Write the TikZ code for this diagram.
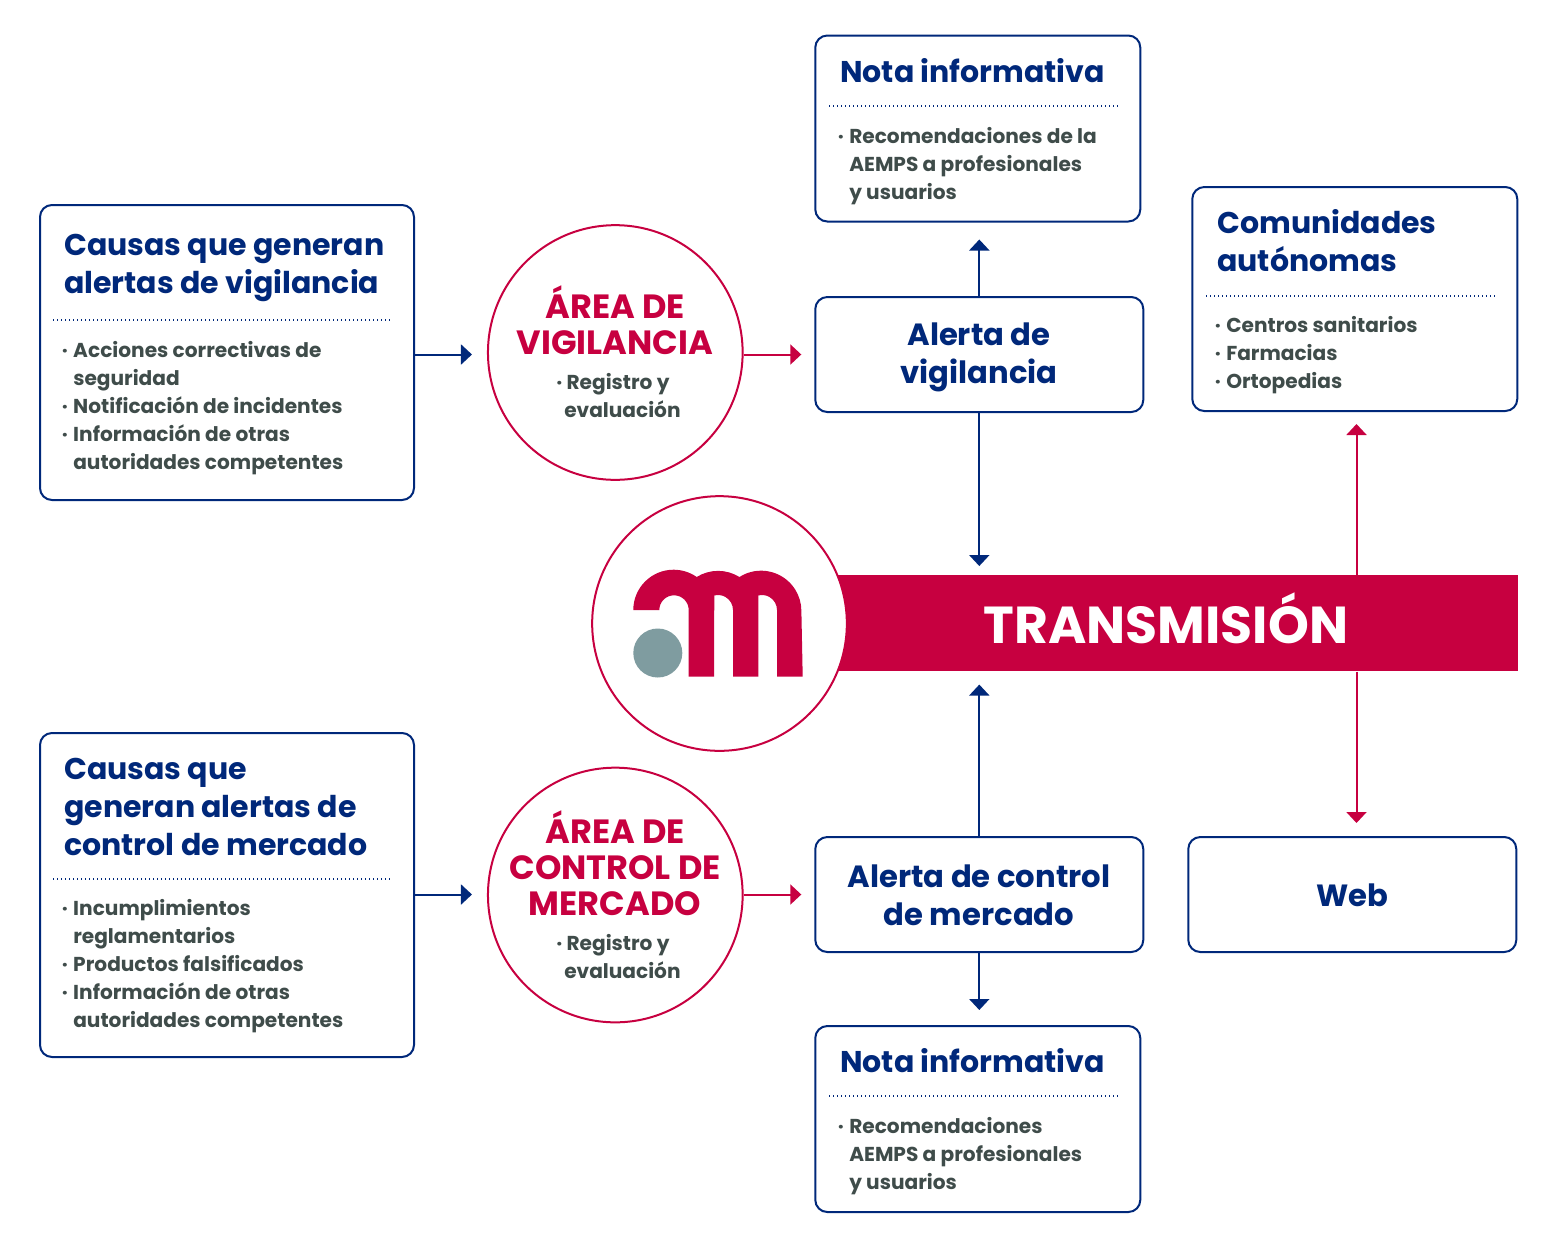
\documentclass[tikz,border=0pt]{standalone}
\usepackage{fontspec}
\setmainfont{Poppins}[UprightFont=* SemiBold,BoldFont=* Bold]
\usetikzlibrary{arrows.meta}
\definecolor{azul}{HTML}{00287A}
\definecolor{rojo}{HTML}{C70040}
\definecolor{texto}{HTML}{3F4C4A}
\definecolor{gris}{HTML}{7F9CA0}
\newcommand{\punto}{\llap{·\hspace{4pt}}}
\begin{document}
\begin{tikzpicture}[x=0.75pt,y=-0.75pt]
  \tikzstyle{cuadro}  = [draw=azul,line width=1.5pt,rounded corners=9pt,fill=white,inner sep=0pt]
  \tikzstyle{alerta}  = [cuadro,minimum width=246pt,minimum height=86.25pt]
  \tikzstyle{nota}    = [cuadro,minimum width=243.75pt,minimum height=139.5pt]
  \tikzstyle{area}    = [circle,draw=rojo,line width=1.5pt,fill=white,minimum size=191pt,inner sep=0pt]
  \tikzstyle{titulo}  = [anchor=north west,inner sep=0pt,text=azul,align=left,font=\fontsize{22.5}{28.5}\selectfont\bfseries]
  \tikzstyle{nombre}  = [inner sep=0pt,text=azul,align=center,font=\fontsize{23}{28.5}\selectfont\bfseries]
  \tikzstyle{lista}   = [anchor=north west,inner sep=0pt,text=texto,align=left,font=\fontsize{15.1}{21}\selectfont\bfseries]
  \tikzstyle{rotulo}  = [inner sep=0pt,text=rojo,align=center,font=\fontsize{25.2}{27}\selectfont\bfseries]
  \tikzstyle{regla}   = [azul,line width=0.9pt,dash pattern=on 0.9pt off 2.1pt]
  \tikzstyle{secA}    = [azul,line width=1.5pt,-{Triangle[length=8.25pt,width=15pt]}]
  \tikzstyle{secR}    = [rojo,line width=1.5pt,-{Triangle[length=8.25pt,width=15pt]}]
  \useasboundingbox (0,0) rectangle (1553,1247);
  % banda central
  \path (1166,623.3) node[fill=rojo,minimum width=528pt,minimum height=72pt,inner sep=0pt](banda) {};
  \path (1166,618.5) node[inner sep=0pt,text=white,font=\fontsize{39}{39}\selectfont\bfseries](tituloBanda) {TRANSMISIÓN};
  % cuadros de causas
  \path (227,352.5) node[cuadro,minimum width=280.5pt,minimum height=221.25pt](causaV) {};
  \path (227,895) node[cuadro,minimum width=280.5pt,minimum height=243pt](causaM) {};
  \path (64,234) node[titulo](tituloCV) {Causas que generan\\alertas de vigilancia};
  \draw[regla] (53,320) -- (391,320);
  \path (73,341) node[lista](listaCV) {\punto Acciones correctivas de\\seguridad\\\punto Notificación de incidentes\\\punto Información de otras\\autoridades competentes};
  \path (64,758) node[titulo](tituloCM) {Causas que\\generan alertas de\\control de mercado};
  \draw[regla] (53,879) -- (391,879);
  \path (73,899) node[lista](listaCM) {\punto Incumplimientos\\reglamentarios\\\punto Productos falsificados\\\punto Información de otras\\autoridades competentes};
  % areas
  \path (615.3,352.5) node[area](areaV) {};
  \path (615.3,895) node[area](areaM) {};
  \path (615,320) node[rotulo](tituloAV) {ÁREA DE\\VIGILANCIA};
  \path (556,373) node[lista](listaAV) {· Registro y\\\hspace{6pt}evaluación};
  \path (615,863) node[rotulo](tituloAM) {ÁREA DE\\CONTROL DE\\MERCADO};
  \path (556,934) node[lista](listaAM) {· Registro y\\\hspace{6pt}evaluación};
  % alertas
  \path (979.3,354.5) node[alerta](alertaV) {};
  \path (979,357) node[nombre](tituloAlV) {Alerta de\\vigilancia};
  \path (979.3,894.5) node[alerta](alertaM) {};
  \path (979,895) node[nombre](tituloAlM) {Alerta de control\\de mercado};
  % notas
  \path (977.8,128.5) node[nota](notaA) {};
  \path (840,58) node[titulo](tituloNA) {Nota informativa};
  \draw[regla] (829,106) -- (1119,106);
  \path (849,127) node[lista](listaNA) {\punto Recomendaciones de la\\AEMPS a profesionales\\y usuarios};
  \path (977.8,1119) node[nota](notaB) {};
  \path (840,1048) node[titulo](tituloNB) {Nota informativa};
  \draw[regla] (829,1096) -- (1119,1096);
  \path (849,1117) node[lista](listaNB) {\punto Recomendaciones\\AEMPS a profesionales\\y usuarios};
  % destinos
  \path (1354.8,299) node[cuadro,minimum width=243.75pt,minimum height=168pt](comun) {};
  \path (1217,209) node[titulo](tituloCA) {Comunidades\\autónomas};
  \draw[regla] (1206,296) -- (1496,296);
  \path (1226,316) node[lista](listaCA) {\punto Centros sanitarios\\\punto Farmacias\\\punto Ortopedias};
  \path (1352.3,894.5) node[alerta](web) {};
  \path (1352,895) node[nombre](tituloWeb) {Web};
  % logo
  \path (719.5,623.5) node[area](logo) {};
  \fill[rojo] (633.3,610) arc[start angle=180,end angle=305,radius=40.3]
    arc[start angle=238,end angle=302,radius=40.3]
    arc[start angle=237.5,end angle=360,radius=40.3]
    -- (802.7,676.7) -- (777,676.7) -- (777,610)
    arc[start angle=360,end angle=255.7,radius=15]
    -- (758.3,676.7) -- (733,676.7) -- (733,610)
    arc[start angle=360,end angle=255.7,radius=15]
    -- (714,676.7) -- (688.7,676.7) -- (688.7,610)
    arc[start angle=360,end angle=180,radius=14.7] -- cycle;
  \fill[gris] (657.8,653) circle[radius=24.5];
  % flechas
  \coordinate (vertical) at (1356.5,623);
  \draw[secA,shorten >=15pt*0.75] (causaV.east |- alertaV) -- (areaV.west |- alertaV);
  \draw[secR,shorten >=13pt*0.75] (areaV.east |- alertaV) -- (alertaV.west);
  \draw[secA,shorten >=15pt*0.75] (causaM.east |- alertaM) -- (areaM.west |- alertaM);
  \draw[secR,shorten >=13pt*0.75] (areaM.east |- alertaM) -- (alertaM.west);
  \draw[secA,shorten >=17pt*0.75] (alertaV.north) -- (alertaV.north |- notaA.south);
  \draw[secA,shorten >=9pt*0.75]  (alertaV.south) -- (alertaV.south |- banda.north);
  \draw[secA,shorten >=13pt*0.75] (alertaM.north) -- (alertaM.north |- banda.south);
  \draw[secA,shorten >=15pt*0.75] (alertaM.south) -- (alertaM.south |- notaB.north);
  \draw[secR,shorten >=12pt*0.75] (vertical |- banda.north) -- (vertical |- comun.south);
  \draw[secR,shorten >=13pt*0.75] (vertical |- banda.south) -- (vertical |- web.north);
\end{tikzpicture}
\end{document}
